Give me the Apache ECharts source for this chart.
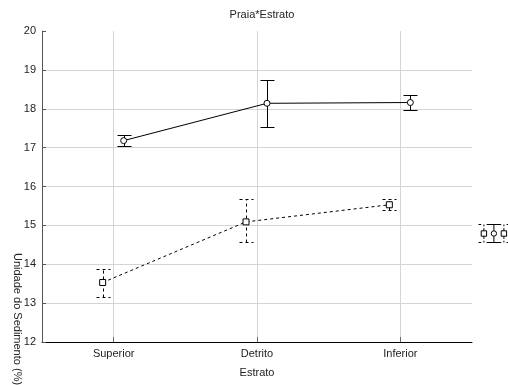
<!DOCTYPE html>
<html><head><meta charset="utf-8">
<script src="https://cdn.jsdelivr.net/npm/echarts@6/dist/echarts.min.js"></script>
<style>html,body{margin:0;padding:0;background:#fff}#c{width:508px;height:385px}</style>
</head><body><div id="c"></div>
<script>
const categories = ['Superior', 'Detrito', 'Inferior'];
const seriesNames = ['Praia 1', 'Praia 2'];
const mean1 = [17.18, 18.14, 18.16];
const low1  = [17.03, 17.52, 17.96];
const high1 = [17.32, 18.74, 18.35];
const mean2 = [13.53, 15.09, 15.53];
const low2  = [13.15, 14.56, 15.40];
const high2 = [13.88, 15.67, 15.68];
const yMin = 12, yMax = 20, yStep = 1;

const FONT = 'Liberation Sans, Arial, sans-serif';
const TXT = '#222';

function errorBarItem(dashed) {
  return function (params, api) {
    const x = api.value(0);
    const lo = api.coord([x, api.value(1)]);
    const hi = api.coord([x, api.value(2)]);
    const w = 7;
    const cx = Math.round(lo[0]) + 0.5;
    const ly = Math.round(lo[1]) + 0.5, hy = Math.round(hi[1]) + 0.5;
    const style = { stroke: '#000', lineWidth: 1, lineDash: dashed ? [3, 3] : null, fill: null };
    return { type: 'group', children: [
      { type: 'line', shape: { x1: cx, y1: ly, x2: cx, y2: hy }, style },
      { type: 'line', shape: { x1: cx - w, y1: hy, x2: cx + w, y2: hy }, style },
      { type: 'line', shape: { x1: cx - w, y1: ly, x2: cx + w, y2: ly }, style }
    ]};
  };
}

// legend glyphs: marker with error bar (decorative icons)
const iconDashed = 'path://M4,0L7,0M13,0L16,0M10,0L10,2M10,4L10,7M7,7L13,7L13,13L7,13ZM10,13L10,16M10,18L10,20M4,20L7,20M13,20L16,20';
const iconSolid = 'path://M4,0L16,0M10,0L10,7M10,13L10,20M4,20L16,20M13,10A3,3,0,1,1,7,10A3,3,0,1,1,13,10Z';

const gridBase = { top: 31, bottom: 43 };
const hiddenX = (gi) => ({ type: 'category', data: categories, gridIndex: gi, boundaryGap: true, show: false });
const hiddenY = (gi) => ({ type: 'value', min: yMin, max: yMax, interval: yStep, gridIndex: gi, show: false });

const legendCommon = {
  itemWidth: 14, itemHeight: 18, itemGap: 0, padding: 0,
  formatter: () => '', textStyle: { fontSize: 1 },
  itemStyle: { color: 'none', borderColor: '#000', borderWidth: 1 },
  lineStyle: { width: 0 }
};

const option = {
  animation: false,
  backgroundColor: '#fff',
  title: {
    text: 'Praia*Estrato', left: 257, top: 4, textAlign: 'center',
    textStyle: { fontFamily: FONT, fontSize: 11, fontWeight: 'normal', color: TXT }
  },
  legend: [
    Object.assign({ data: [{ name: seriesNames[1], icon: iconDashed }], left: 476, top: 222 }, legendCommon),
    Object.assign({ data: [{ name: seriesNames[0], icon: iconSolid }], left: 486, top: 222 }, legendCommon),
    Object.assign({ data: [{ name: seriesNames[1], icon: iconDashed }], left: 496, top: 222 }, legendCommon)
  ],
  grid: [
    Object.assign({ left: 42, right: 36 }, gridBase),
    Object.assign({ left: 52, right: 26 }, gridBase),
    Object.assign({ left: 31, right: 47 }, gridBase)
  ],
  xAxis: [
    {
      type: 'category', data: categories, gridIndex: 0, boundaryGap: true,
      name: 'Estrato', nameLocation: 'middle', nameGap: 25,
      nameTextStyle: { fontFamily: FONT, fontSize: 11, color: TXT },
      axisLine: { lineStyle: { color: '#000', width: 1 } },
      axisTick: { show: true, alignWithLabel: true, inside: true, length: 5, lineStyle: { color: '#666' } },
      axisLabel: { fontFamily: FONT, fontSize: 11, color: TXT, margin: 6 },
      splitLine: { show: true, alignWithLabel: true, lineStyle: { color: '#d4d4d4', width: 1 } }
    },
    hiddenX(1), hiddenX(2)
  ],
  yAxis: [
    {
      type: 'value', min: yMin, max: yMax, interval: yStep, gridIndex: 0,
      axisLine: { show: true, lineStyle: { color: '#555', width: 1 } },
      axisTick: { show: true, inside: true, length: 4, lineStyle: { color: '#555' } },
      axisLabel: { fontFamily: FONT, fontSize: 11, color: TXT, margin: 6 },
      splitLine: { show: true, showMaxLine: false, lineStyle: { color: '#d4d4d4', width: 1 } }
    },
    hiddenY(1), hiddenY(2)
  ],
  graphic: [
    { type: 'text', x: 17, y: 253, rotation: -Math.PI / 2,
      style: { text: 'Unidade do Sedimento (%)', textAlign: 'left', textVerticalAlign: 'middle',
               font: '11px ' + FONT, fill: TXT } }
  ],
  series: [
    {
      type: 'custom', xAxisIndex: 1, yAxisIndex: 1, z: 2, silent: true,
      renderItem: errorBarItem(false),
      encode: { x: 0, y: [1, 2] },
      data: categories.map((c, i) => [i, low1[i], high1[i]])
    },
    {
      type: 'custom', xAxisIndex: 2, yAxisIndex: 2, z: 2, silent: true,
      renderItem: errorBarItem(true),
      encode: { x: 0, y: [1, 2] },
      data: categories.map((c, i) => [i, low2[i], high2[i]])
    },
    {
      name: seriesNames[0], type: 'line', xAxisIndex: 1, yAxisIndex: 1, z: 3,
      data: mean1, symbol: 'circle', symbolSize: 6,
      itemStyle: { color: '#fff', borderColor: '#000', borderWidth: 1 },
      lineStyle: { color: '#000', width: 1 }
    },
    {
      name: seriesNames[1], type: 'line', xAxisIndex: 2, yAxisIndex: 2, z: 3,
      data: mean2, symbol: 'rect', symbolSize: 6,
      itemStyle: { color: '#fff', borderColor: '#000', borderWidth: 1 },
      lineStyle: { color: '#000', width: 1, type: [3, 3] }
    }
  ]
};
const chart = echarts.init(document.getElementById('c'), null, { renderer: 'canvas' });
chart.setOption(option);
</script></body></html>
